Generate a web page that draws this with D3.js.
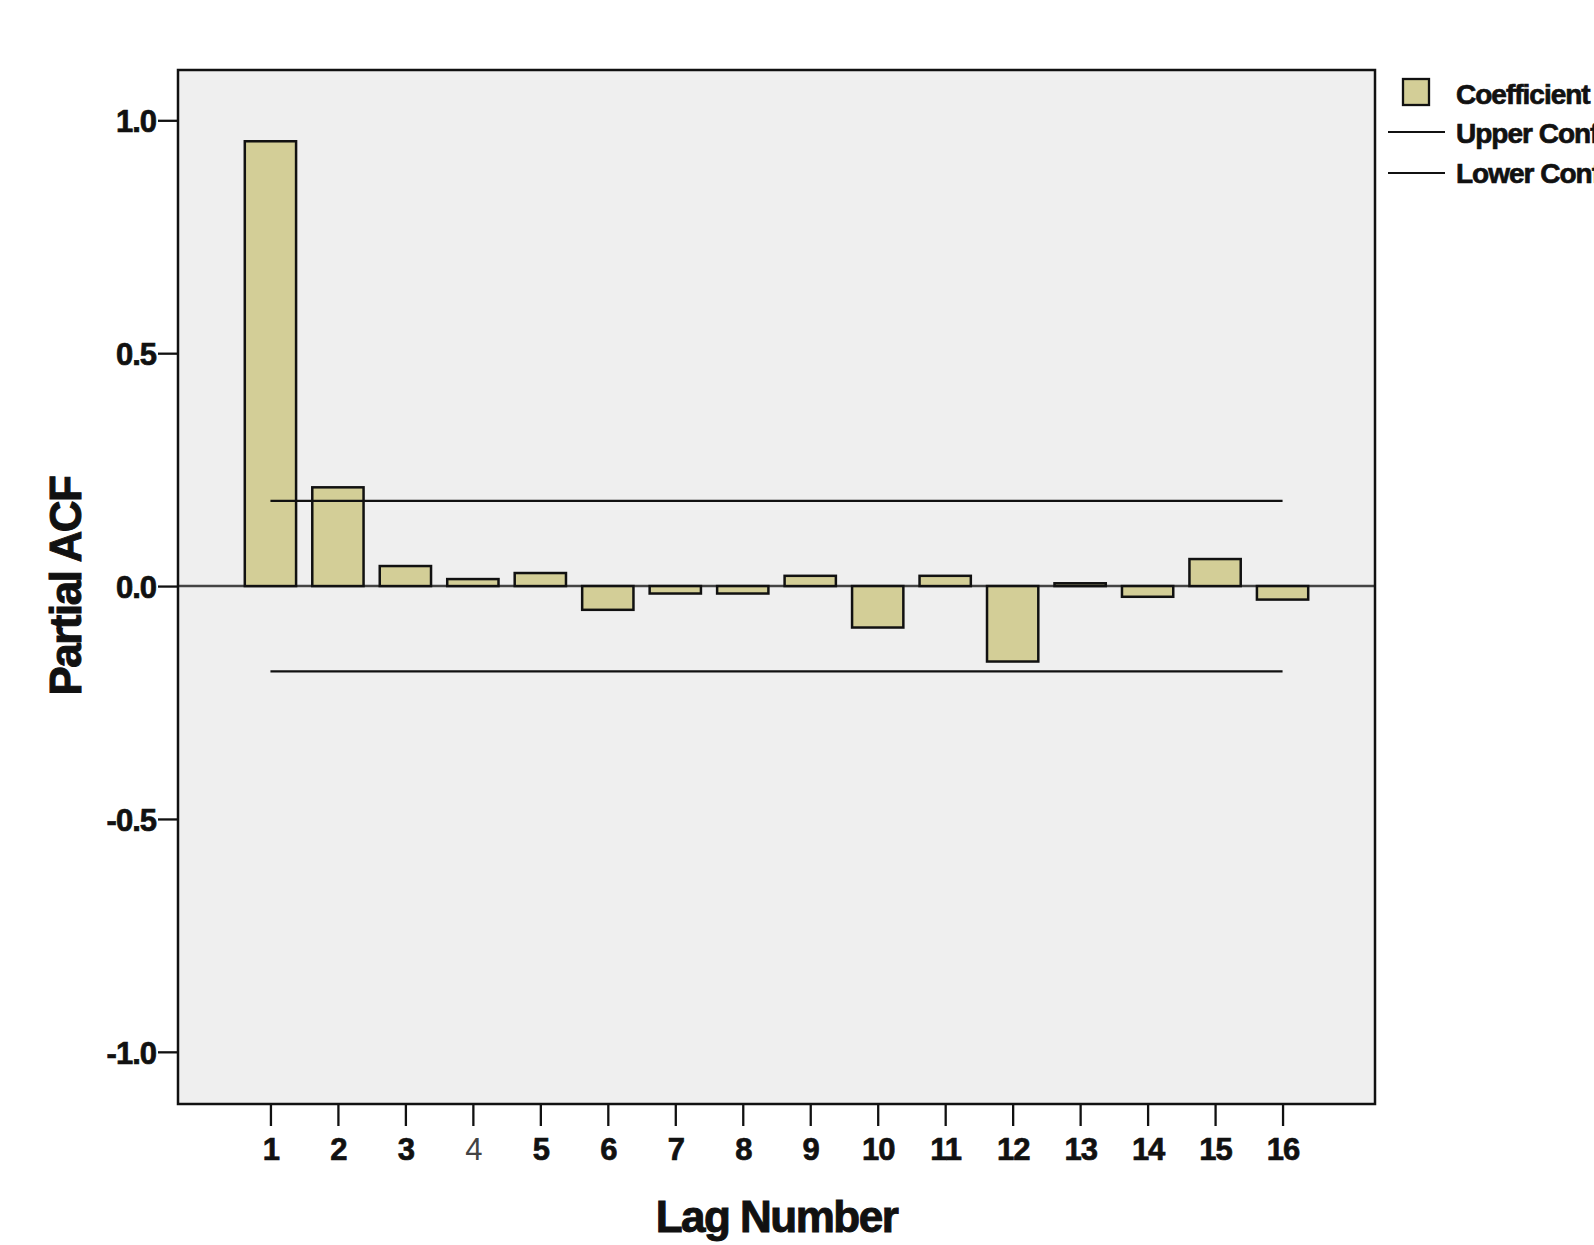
<!doctype html>
<meta charset="utf-8">
<style>
  body { margin: 0; background: #fff; }
  svg { display: block; font-family: "Liberation Sans", Arial, sans-serif; }
  .tick text { font-weight: bold; }
</style>
<svg id="chart" width="1594" height="1245"></svg>
<script src="https://cdn.jsdelivr.net/npm/d3@7"></script>
<script>
  // data
  let lags = [1, 2, 3, 4, 5, 6, 7, 8, 9, 10, 11, 12, 13, 14, 15, 16];
  let coefficient = [0.955, 0.212, 0.043, 0.015, 0.028, -0.051, -0.016, -0.016,
                     0.022, -0.089, 0.022, -0.162, 0.006, -0.023, 0.058, -0.029];
  let upperLimit = [0.183, 0.183, 0.183, 0.183, 0.183, 0.183, 0.183, 0.183,
                    0.183, 0.183, 0.183, 0.183, 0.183, 0.183, 0.183, 0.183];
  let lowerLimit = [-0.183, -0.183, -0.183, -0.183, -0.183, -0.183, -0.183, -0.183,
                    -0.183, -0.183, -0.183, -0.183, -0.183, -0.183, -0.183, -0.183];
  let yTicks = [-1.0, -0.5, 0.0, 0.5, 1.0];
  let yTickLabels = ["-1.0", "-0.5", "0.0", "0.5", "1.0"];
  let legendLabels = ["Coefficient", "Upper Confidence Limit", "Lower Confidence Limit"];

  let box = { left: 178, right: 1375, top: 70, bottom: 1104 };
  let svg = d3.select("#chart");

  let x = d3.scaleLinear().domain([-0.37, 17.37]).range([box.left, box.right]);
  let y = d3.scaleLinear().domain([-1.112, 1.108]).range([box.bottom, box.top]);
  let barW = 0.76 * (x(2) - x(1));

  // plot background
  svg.append("rect")
    .attr("x", box.left).attr("y", box.top)
    .attr("width", box.right - box.left).attr("height", box.bottom - box.top)
    .attr("fill", "#efefef");

  // zero reference line
  svg.append("line")
    .attr("x1", box.left).attr("x2", box.right)
    .attr("y1", y(0)).attr("y2", y(0))
    .attr("stroke", "#444").attr("stroke-width", 2.5);

  // bars
  svg.selectAll("rect.bar")
    .data(coefficient)
    .enter()
    .append("rect")
    .attr("class", "bar")
    .attr("x", (d, i) => x(lags[i]) - barW / 2)
    .attr("width", barW)
    .attr("y", d => y(Math.max(0, d)))
    .attr("height", d => Math.abs(y(d) - y(0)))
    .attr("fill", "#d3ce97")
    .attr("stroke", "#111")
    .attr("stroke-width", 2.5);

  // confidence limits
  let limitLine = d3.line()
    .x((d, i) => x(lags[i]))
    .y(d => y(d));
  [upperLimit, lowerLimit].forEach(s => {
    svg.append("path")
      .attr("d", limitLine(s))
      .attr("fill", "none")
      .attr("stroke", "#111")
      .attr("stroke-width", 2.3);
  });

  // frame
  svg.append("rect")
    .attr("x", box.left).attr("y", box.top)
    .attr("width", box.right - box.left).attr("height", box.bottom - box.top)
    .attr("fill", "none")
    .attr("stroke", "#111").attr("stroke-width", 2.5);

  // axes
  let yAxis = svg.append("g")
    .attr("transform", "translate(" + box.left + ",0)")
    .call(d3.axisLeft(y).tickValues(yTicks).tickSize(20).tickPadding(2)
      .tickFormat((d, i) => yTickLabels[i]));
  let xAxis = svg.append("g")
    .attr("transform", "translate(0," + box.bottom + ")")
    .call(d3.axisBottom(x).tickValues(lags).tickSize(22).tickPadding(12)
      .tickFormat(d => String(d)));

  [yAxis, xAxis].forEach(a => {
    a.select(".domain").remove();
    a.selectAll(".tick line").attr("stroke", "#111").attr("stroke-width", 2.3);
    a.selectAll(".tick text")
      .attr("fill", "#111")
      .attr("stroke", "#111").attr("stroke-width", 0.7)
      .style("font-size", "31px")
      .style("letter-spacing", "-1px");
  });
  yAxis.selectAll(".tick text").attr("dy", "0.36em");
  // lag 4 label is drawn in normal weight in the source
  xAxis.selectAll(".tick text").filter(d => d === 4)
    .style("font-weight", "normal").attr("fill", "#444").attr("stroke", "none");

  // axis titles
  svg.append("text")
    .attr("x", (box.left + box.right) / 2)
    .attr("y", 1232)
    .attr("text-anchor", "middle")
    .style("font-size", "44px").style("font-weight", "bold")
    .style("letter-spacing", "-1.5px")
    .attr("fill", "#111").attr("stroke", "#111").attr("stroke-width", 1)
    .text("Lag Number");
  svg.append("text")
    .attr("transform", "translate(81," + y(0) + ") rotate(-90)")
    .attr("text-anchor", "middle")
    .style("font-size", "44px").style("font-weight", "bold")
    .style("letter-spacing", "-1.5px")
    .attr("fill", "#111").attr("stroke", "#111").attr("stroke-width", 1)
    .text("Partial ACF");

  // legend (text runs past the right edge, as in the source)
  let legend = svg.append("g");
  legend.append("rect")
    .attr("x", 1403).attr("y", 79).attr("width", 26).attr("height", 26)
    .attr("fill", "#d3ce97").attr("stroke", "#111").attr("stroke-width", 2.3);
  [132, 173].forEach(ly => {
    legend.append("line")
      .attr("x1", 1388).attr("x2", 1445).attr("y1", ly).attr("y2", ly)
      .attr("stroke", "#111").attr("stroke-width", 2.2);
  });
  legend.selectAll("text.leg")
    .data(legendLabels)
    .enter()
    .append("text")
    .attr("class", "leg")
    .attr("x", 1456)
    .attr("y", (d, i) => [104, 143, 183][i])
    .style("font-size", "28px").style("font-weight", "bold")
    .style("letter-spacing", "-1px")
    .attr("fill", "#111").attr("stroke", "#111").attr("stroke-width", 0.7)
    .text(d => d);
</script>
